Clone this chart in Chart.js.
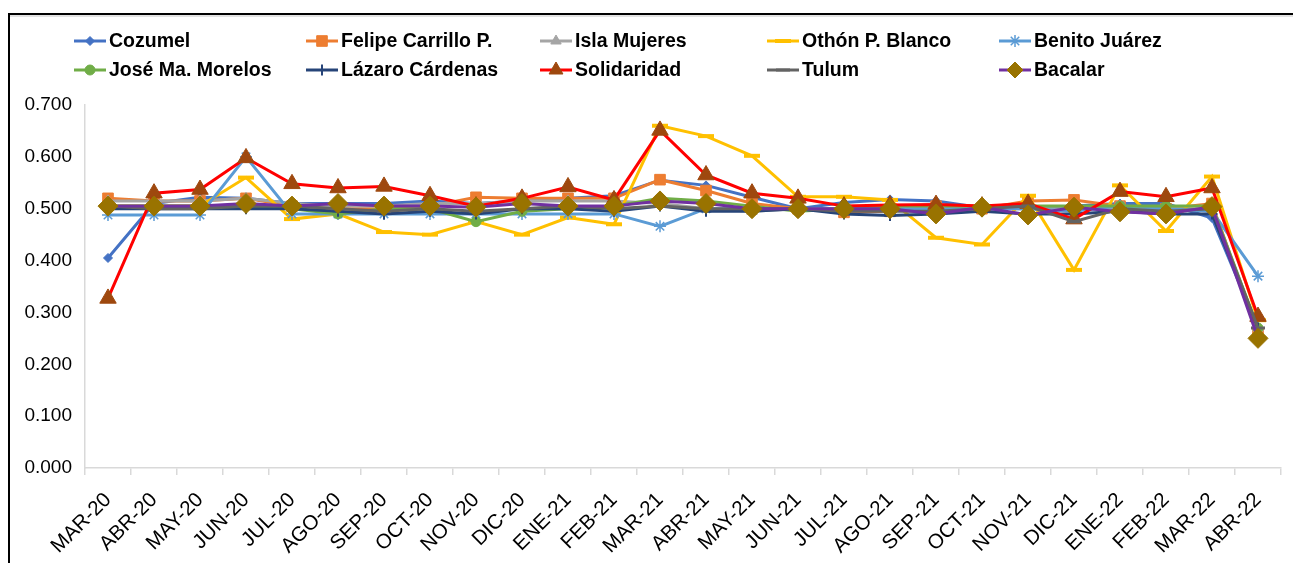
<!DOCTYPE html>
<html><head><meta charset="utf-8">
<script src="https://cdn.jsdelivr.net/npm/chart.js@4.4.1/dist/chart.umd.min.js"></script>
<style>
html,body{margin:0;padding:0;background:#fff;}
#wrap{position:relative;width:1293px;height:563px;overflow:hidden;}
#frame{position:absolute;left:8px;top:13px;width:1400px;height:700px;border-left:2px solid #000;border-top:2px solid #000;}
#frame2{position:absolute;left:10px;top:15px;width:1400px;height:2px;background:#e2e2e2;}
canvas{position:absolute;left:0;top:0;}
</style></head>
<body><div id="wrap"><div id="frame"></div><div id="frame2"></div><canvas id="c" width="1293" height="563"></canvas></div>
<script>
const categories = ['MAR-20','ABR-20','MAY-20','JUN-20','JUL-20','AGO-20','SEP-20','OCT-20','NOV-20','DIC-20','ENE-21','FEB-21','MAR-21','ABR-21','MAY-21','JUN-21','JUL-21','AGO-21','SEP-21','OCT-21','NOV-21','DIC-21','ENE-22','FEB-22','MAR-22','ABR-22'];
const yTickLabels = ['0.000','0.100','0.200','0.300','0.400','0.500','0.600','0.700'];

const cozumel     = [0.405,0.510,0.522,0.520,0.510,0.510,0.510,0.515,0.510,0.515,0.520,0.525,0.555,0.545,0.522,0.500,0.512,0.518,0.515,0.502,0.500,0.505,0.510,0.510,0.482,0.270];
const felipe      = [0.520,0.515,0.515,0.520,0.505,0.500,0.500,0.505,0.522,0.520,0.520,0.520,0.556,0.535,0.510,0.500,0.493,0.495,0.505,0.500,0.515,0.517,0.505,0.500,0.510,0.260];
const isla        = [0.515,0.515,0.515,0.520,0.510,0.505,0.505,0.510,0.510,0.515,0.515,0.515,0.510,0.500,0.495,0.500,0.500,0.500,0.500,0.500,0.500,0.500,0.500,0.500,0.500,0.270];
const othon       = [0.505,0.505,0.505,0.560,0.480,0.490,0.455,0.450,0.475,0.450,0.483,0.470,0.660,0.640,0.602,0.523,0.523,0.517,0.444,0.431,0.525,0.382,0.545,0.457,0.562,0.285];
const benito      = [0.488,0.488,0.488,0.600,0.490,0.490,0.490,0.490,0.490,0.490,0.490,0.490,0.466,0.500,0.500,0.500,0.500,0.500,0.500,0.500,0.500,0.495,0.505,0.500,0.495,0.370];
const jose        = [0.505,0.505,0.505,0.505,0.500,0.490,0.500,0.500,0.475,0.495,0.500,0.505,0.520,0.515,0.505,0.495,0.500,0.505,0.505,0.505,0.505,0.505,0.505,0.505,0.505,0.270];
const lazaro      = [0.500,0.500,0.500,0.500,0.500,0.495,0.490,0.495,0.490,0.500,0.500,0.495,0.505,0.495,0.495,0.500,0.490,0.487,0.490,0.495,0.490,0.490,0.495,0.490,0.490,0.270];
const solidaridad = [0.327,0.530,0.537,0.598,0.548,0.540,0.543,0.525,0.505,0.520,0.542,0.517,0.651,0.565,0.530,0.520,0.505,0.507,0.508,0.505,0.510,0.480,0.533,0.523,0.540,0.292];
const tulum       = [0.505,0.500,0.500,0.505,0.505,0.500,0.495,0.500,0.495,0.500,0.505,0.500,0.505,0.500,0.500,0.500,0.495,0.495,0.495,0.500,0.505,0.475,0.500,0.495,0.500,0.270];
const bacalar     = [0.505,0.505,0.505,0.510,0.505,0.510,0.505,0.505,0.503,0.510,0.505,0.505,0.515,0.510,0.500,0.500,0.500,0.500,0.490,0.503,0.488,0.503,0.494,0.490,0.504,0.250];

const FONT = '"Liberation Sans", Arial, sans-serif';

function ds(label, data, line, style, radius, fill, border, bw, legendRadius){
  return {label, data, borderColor: line, borderWidth: 3, tension: 0,
    pointStyle: style, pointRadius: radius, pointHoverRadius: radius,
    pointBackgroundColor: fill, pointBorderColor: border, pointBorderWidth: bw,
    legendRadius: legendRadius ?? radius, fill: false};
}

const datasets = [
  ds('Cozumel', cozumel, '#4472C4', 'rectRot', 4.5, '#4472C4', '#4472C4', 1),
  ds('Felipe Carrillo P.', felipe, '#ED7D31', 'rect', 7.5, '#ED7D31', '#ED7D31', 1),
  ds('Isla Mujeres', isla, '#A5A5A5', 'triangle', 6, '#A5A5A5', '#A5A5A5', 1),
  ds('Othón P. Blanco', othon, '#FFC000', 'line', 8, '#FFC000', '#FFC000', 4),
  ds('Benito Juárez', benito, '#5B9BD5', 'star', 6, '#5B9BD5', '#5B9BD5', 1.5),
  ds('José Ma. Morelos', jose, '#70AD47', 'circle', 5, '#70AD47', '#70AD47', 1),
  ds('Lázaro Cárdenas', lazaro, '#264478', 'cross', 5.5, '#264478', '#264478', 2),
  ds('Solidaridad', solidaridad, '#FF0000', 'triangle', 9.5, '#9E480E', '#9E480E', 1, 8),
  ds('Tulum', tulum, '#636363', 'line', 7, '#636363', '#636363', 3),
  ds('Bacalar', bacalar, '#7030A0', 'rectRot', 10, '#997300', '#997300', 1, 8)
];
datasets.forEach((d,i)=>{ d.order = datasets.length - i; });

const gridLegend = {
  id: 'gridLegend',
  afterDraw(chart){
    const ctx = chart.ctx;
    const cols = [74, 306, 540, 767, 999];
    const rows = [41, 70];
    chart.data.datasets.forEach((d, i) => {
      const x = cols[i % 5], y = rows[Math.floor(i / 5)];
      ctx.save();
      ctx.strokeStyle = d.borderColor; ctx.lineWidth = 3;
      ctx.beginPath(); ctx.moveTo(x, y); ctx.lineTo(x + 32, y); ctx.stroke();
      ctx.fillStyle = d.pointBackgroundColor; ctx.strokeStyle = d.pointBorderColor; ctx.lineWidth = d.pointBorderWidth;
      Chart.helpers.drawPoint(ctx, {pointStyle: d.pointStyle, radius: d.legendRadius, borderWidth: d.pointBorderWidth, rotation: 0}, x + 16, y);
      ctx.fillStyle = '#000';
      ctx.font = 'bold 19.5px ' + FONT;
      ctx.textBaseline = 'middle';
      ctx.textAlign = 'left';
      ctx.fillText(d.label, x + 35, y + 1);
      ctx.restore();
    });
  }
};

new Chart(document.getElementById('c'), {
  type: 'line',
  data: { labels: categories, datasets },
  plugins: [gridLegend],
  options: {
    responsive: false, animation: false,
    layout: { padding: { top: 105, right: 12, left: 0, bottom: 0 } },
    plugins: { legend: { display: false }, tooltip: { enabled: false } },
    scales: {
      x: {
        offset: true,
        ticks: { autoSkip: false, maxRotation: 45, minRotation: 45, color: '#000', font: { size: 20.5, family: FONT }, padding: 13 },
        grid: { offset: true, drawOnChartArea: false, drawTicks: true, tickLength: 7, color: '#d9d9d9', lineWidth: 1.5 },
        border: { display: true, color: '#d9d9d9', width: 1.5 },
        afterFit(s){ s.height = 95; }
      },
      y: {
        min: 0, max: 0.7,
        ticks: { stepSize: 0.1, color: '#000', font: { size: 19, family: FONT }, padding: 13,
          callback: (v, i) => yTickLabels[i] },
        grid: { display: true, drawOnChartArea: false, drawTicks: false, color: '#d9d9d9' },
        border: { display: true, color: '#d9d9d9', width: 1.5 },
        afterFit(s){ s.width = 85; }
      }
    }
  }
});
</script>
</body></html>
